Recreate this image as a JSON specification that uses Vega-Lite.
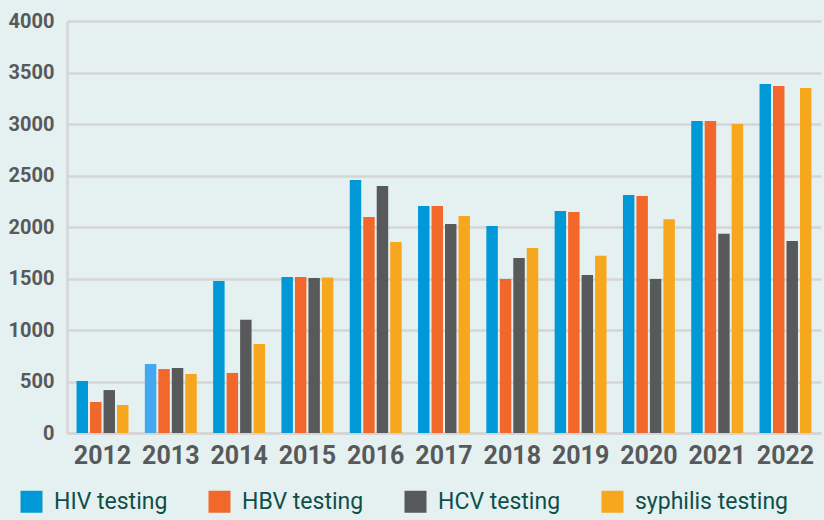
{
  "$schema": "https://vega.github.io/schema/vega-lite/v6.json",
  "width": 754,
  "height": 412,
  "autosize": {"type": "none"},
  "padding": {"left": 67, "top": 21, "right": 3, "bottom": 87},
  "background": "#e5f1f1",
  "config": {
    "view": {"stroke": null},
    "font": "Roboto, sans-serif"
  },
  "data": {
    "values": [
      {"year": "2012", "series": "HIV testing", "value": 505},
      {"year": "2012", "series": "HBV testing", "value": 301},
      {"year": "2012", "series": "HCV testing", "value": 417},
      {"year": "2012", "series": "syphilis testing", "value": 272},
      {"year": "2013", "series": "HIV testing", "value": 670},
      {"year": "2013", "series": "HBV testing", "value": 621},
      {"year": "2013", "series": "HCV testing", "value": 631},
      {"year": "2013", "series": "syphilis testing", "value": 573},
      {"year": "2014", "series": "HIV testing", "value": 1475},
      {"year": "2014", "series": "HBV testing", "value": 583},
      {"year": "2014", "series": "HCV testing", "value": 1100},
      {"year": "2014", "series": "syphilis testing", "value": 865},
      {"year": "2015", "series": "HIV testing", "value": 1515},
      {"year": "2015", "series": "HBV testing", "value": 1515},
      {"year": "2015", "series": "HCV testing", "value": 1505},
      {"year": "2015", "series": "syphilis testing", "value": 1510},
      {"year": "2016", "series": "HIV testing", "value": 2456},
      {"year": "2016", "series": "HBV testing", "value": 2097},
      {"year": "2016", "series": "HCV testing", "value": 2398},
      {"year": "2016", "series": "syphilis testing", "value": 1854},
      {"year": "2017", "series": "HIV testing", "value": 2204},
      {"year": "2017", "series": "HBV testing", "value": 2204},
      {"year": "2017", "series": "HCV testing", "value": 2029},
      {"year": "2017", "series": "syphilis testing", "value": 2107},
      {"year": "2018", "series": "HIV testing", "value": 2010},
      {"year": "2018", "series": "HBV testing", "value": 1495},
      {"year": "2018", "series": "HCV testing", "value": 1700},
      {"year": "2018", "series": "syphilis testing", "value": 1796},
      {"year": "2019", "series": "HIV testing", "value": 2155},
      {"year": "2019", "series": "HBV testing", "value": 2145},
      {"year": "2019", "series": "HCV testing", "value": 1535},
      {"year": "2019", "series": "syphilis testing", "value": 1720},
      {"year": "2020", "series": "HIV testing", "value": 2310},
      {"year": "2020", "series": "HBV testing", "value": 2300},
      {"year": "2020", "series": "HCV testing", "value": 1495},
      {"year": "2020", "series": "syphilis testing", "value": 2075},
      {"year": "2021", "series": "HIV testing", "value": 3029},
      {"year": "2021", "series": "HBV testing", "value": 3029},
      {"year": "2021", "series": "HCV testing", "value": 1935},
      {"year": "2021", "series": "syphilis testing", "value": 3000},
      {"year": "2022", "series": "HIV testing", "value": 3388},
      {"year": "2022", "series": "HBV testing", "value": 3369},
      {"year": "2022", "series": "HCV testing", "value": 1865},
      {"year": "2022", "series": "syphilis testing", "value": 3350}
    ]
  },
  "mark": {"type": "bar"},
  "encoding": {
    "x": {
      "field": "year",
      "type": "nominal",
      "scale": {"paddingInner": 0.24, "paddingOuter": 0.14},
      "axis": {
        "title": null,
        "labelAngle": 0,
        "labelFontSize": 25,
        "labelFontWeight": "bold",
        "labelColor": "#58595b",
        "labelPadding": 10,
        "ticks": false,
        "domainColor": "#d5d5d5",
        "domainWidth": 2.5
      }
    },
    "xOffset": {
      "field": "series",
      "type": "nominal",
      "sort": ["HIV testing", "HBV testing", "HCV testing", "syphilis testing"],
      "scale": {"paddingInner": 0.15}
    },
    "y": {
      "field": "value",
      "type": "quantitative",
      "scale": {"domain": [0, 4000]},
      "axis": {
        "title": null,
        "format": "d",
        "values": [0, 500, 1000, 1500, 2000, 2500, 3000, 3500, 4000],
        "labelFontSize": 20,
        "labelFontWeight": "bold",
        "labelColor": "#58595b",
        "labelPadding": 13,
        "ticks": false,
        "domainColor": "#d5d5d5",
        "domainWidth": 2.5,
        "gridColor": "#d5d5d5",
        "gridWidth": 2.5
      }
    },
    "color": {
      "condition": {
        "test": "datum.year === '2013' && datum.series === 'HIV testing'",
        "value": "#42a8f2"
      },
      "field": "series",
      "type": "nominal",
      "sort": ["HIV testing", "HBV testing", "HCV testing", "syphilis testing"],
      "scale": {
        "domain": ["HIV testing", "HBV testing", "HCV testing", "syphilis testing"],
        "range": ["#0098d6", "#f2672a", "#58595b", "#f6a71e"]
      },
      "legend": {
        "title": null,
        "orient": "none",
        "direction": "horizontal",
        "legendX": -47,
        "legendY": 469,
        "symbolType": "square",
        "symbolSize": 484,
        "symbolStrokeWidth": 0,
        "labelFontSize": 23,
        "labelColor": "#0f4f4a",
        "labelOffset": 11,
        "columnPadding": 40,
        "labelLimit": 300
      }
    }
  }
}
